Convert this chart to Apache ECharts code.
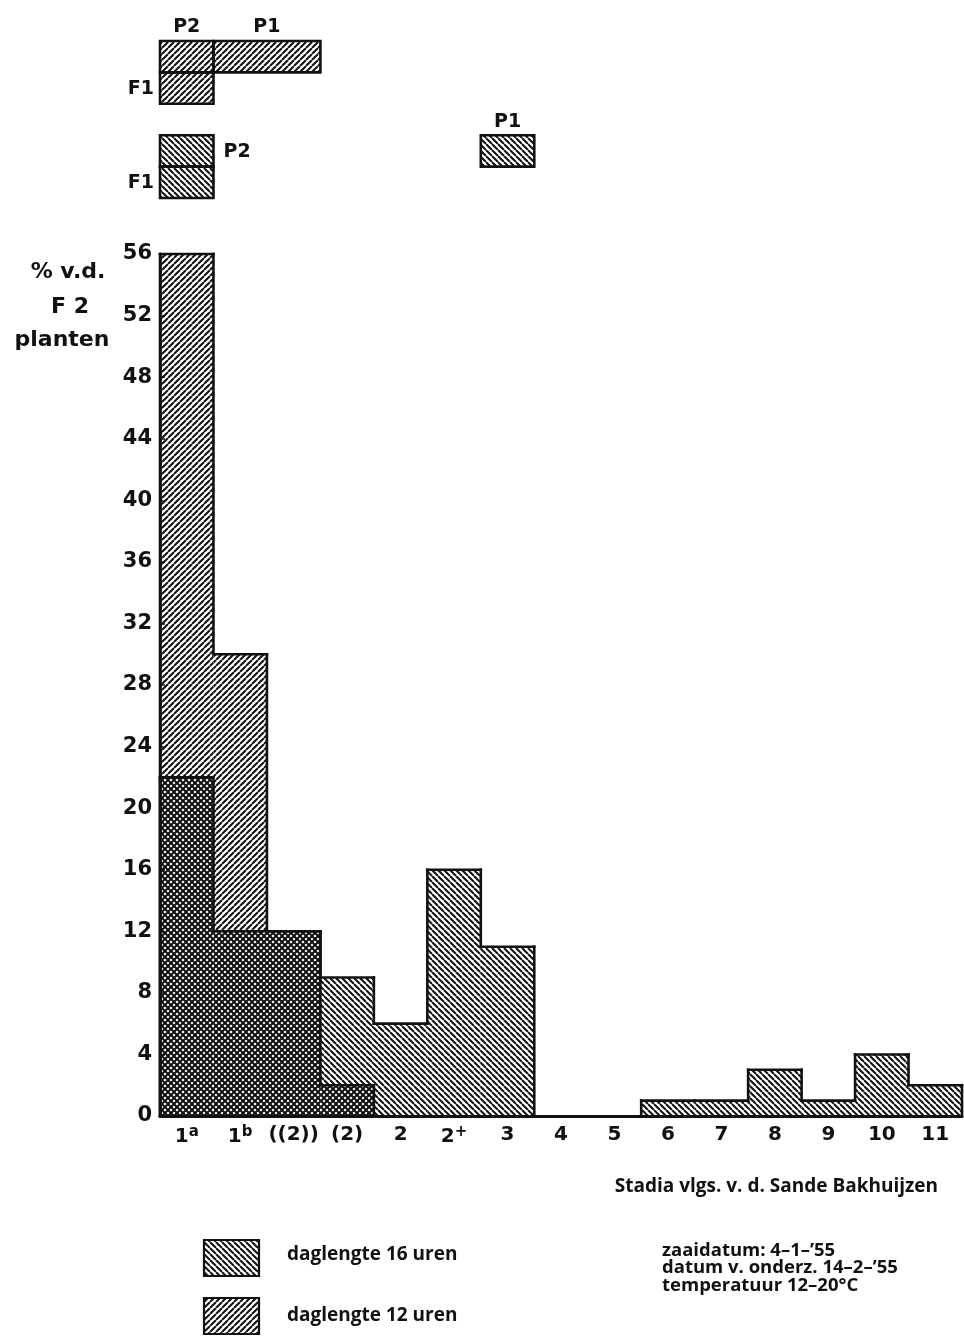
<!DOCTYPE html>
<html>
<head>
<meta charset="utf-8">
<script src="https://cdn.jsdelivr.net/npm/echarts@6/dist/echarts.min.js"></script>
<style>
html,body{margin:0;padding:0;background:#fff;}
#chart{width:964px;height:1336px;}
</style>
</head>
<body>
<div id="chart"></div>
<script>
// ---- data ----
const stages = ['1a', '1b', '((2))', '(2)', '2', '2+', '3', '4', '5', '6', '7', '8', '9', '10', '11'];
const day16 = [22, 12, 12, 9, 6, 16, 11, 0, 0, 1, 1, 3, 1, 4, 2];
const day12 = [56, 30, 12, 2, 0, 0, 0, 0, 0, 0, 0, 0, 0, 0, 0];
const yTicks = [0, 4, 8, 12, 16, 20, 24, 28, 32, 36, 40, 44, 48, 52, 56];
// parents / F1 blocks above the histogram
const insetNames = ['P2', 'P1', 'F1', 'P2', 'F1', 'P1'];
const insetFrom = [0, 1, 0, 0, 0, 6];
const insetTo = [0, 2, 0, 0, 0, 6];
const insetRow = [0, 0, 1, 3, 4, 3];
const insetDay = [12, 12, 12, 16, 16, 16];
const legendLabels = ['daglengte 16 uren', 'daglengte 12 uren'];
const infoLines = ["zaaidatum: 4\u20131\u2013\u201955", "datum v. onderz. 14\u20132\u2013\u201955", "temperatuur 12\u201320\u00b0C"];

// ---- hatch patterns ----
function hatch(dir) {
  const s = 6;
  const c = document.createElement('canvas');
  c.width = s; c.height = s;
  const g = c.getContext('2d');
  g.strokeStyle = '#111';
  g.lineWidth = 2.0;
  g.beginPath();
  for (let k = -1; k <= 1; k++) {
    const x = k * s;
    if (dir === '/') { g.moveTo(x, s); g.lineTo(x + s, 0); }
    else { g.moveTo(x, 0); g.lineTo(x + s, s); }
  }
  g.stroke();
  return c;
}
const pat12 = {image: hatch('/'), repeat: 'repeat'};
const pat16 = {image: hatch('\\'), repeat: 'repeat'};
const LW = 2.6, INK = '#111';

function histSeries(name, values, pattern) {
  const n = values.length;
  return {
    type: 'custom', name: name, xAxisIndex: 0, yAxisIndex: 0,
    data: values.map((v, i) => [i, v, i > 0 ? values[i - 1] : 0, i === n - 1 ? 1 : 0]),
    encode: {x: 0, y: 1},
    renderItem: function (params, api) {
      const i = api.value(0), v = api.value(1), prev = api.value(2), last = api.value(3);
      const top = api.coord([i, v]);
      const base = api.coord([i, 0]);
      const w = api.size([1, 0])[0];
      const x0 = top[0] - w / 2, x1 = top[0] + w / 2;
      const prevY = api.coord([i, prev])[1];
      const ls = {stroke: INK, lineWidth: LW, lineCap: 'square'};
      const ch = [];
      if (v > 0) {
        ch.push({type: 'rect', shape: {x: x0, y: top[1], width: w, height: base[1] - top[1]}, style: {fill: pattern}, silent: true});
        ch.push({type: 'line', shape: {x1: x0, y1: top[1], x2: x1, y2: top[1]}, style: ls, silent: true});
      }
      if (prev !== v) ch.push({type: 'line', shape: {x1: x0, y1: prevY, x2: x0, y2: top[1]}, style: ls, silent: true});
      if (last && v > 0) ch.push({type: 'line', shape: {x1: x1, y1: top[1], x2: x1, y2: base[1]}, style: ls, silent: true});
      return {type: 'group', children: ch};
    },
    z: 2
  };
}

const labelSide = ['top', 'top', 'left', 'right', 'left', 'top'];
const insetSeries = {
  type: 'custom', xAxisIndex: 1, yAxisIndex: 1,
  data: insetNames.map((nm, i) => [insetFrom[i], insetTo[i], insetRow[i], insetDay[i]]),
  encode: {x: 0, y: 2},
  renderItem: function (params, api) {
    const i = params.dataIndex;
    const f = api.value(0), t = api.value(1), r = api.value(2), d = api.value(3);
    const w = api.size([1, 0])[0];
    const x0 = api.coord([f, r])[0] - w / 2;
    const x1 = api.coord([t, r])[0] + w / 2;
    const y0 = api.coord([f, r])[1];
    const y1 = api.coord([f, r + 1])[1];
    const side = labelSide[i];
    let tx, ty, align, vAlign = 'middle';
    if (side === 'top') { tx = (x0 + x1) / 2; ty = y0 - 4; align = 'center'; vAlign = 'bottom'; }
    else if (side === 'left') { tx = x0 - 6; ty = (y0 + y1) / 2 + 1; align = 'right'; }
    else { tx = x1 + 10; ty = (y0 + y1) / 2 + 1; align = 'left'; }
    return {type: 'group', children: [
      {type: 'rect', shape: {x: x0, y: y0, width: x1 - x0, height: y1 - y0},
        style: {fill: d === 12 ? pat12 : pat16, stroke: INK, lineWidth: LW}, silent: true},
      {type: 'text', style: {x: tx, y: ty, text: insetNames[i], fill: INK, font: 'bold 19px "DejaVu Sans"', align: align, verticalAlign: vAlign}, silent: true}
    ]};
  }
};

const chart = echarts.init(document.getElementById('chart'), null, {renderer: 'canvas'});
const labelFont = '"DejaVu Sans"';
chart.setOption({
  animation: false,
  backgroundColor: '#fff',
  grid: [
    {left: 160, right: 2, top: 254, bottom: 220},
    {left: 160, right: 2, top: 41, height: 157}
  ],
  xAxis: [
    {type: 'category', gridIndex: 0, data: stages, boundaryGap: true,
      axisLine: {show: true, lineStyle: {color: INK, width: 3}},
      axisTick: {show: false},
      axisLabel: {interval: 0, margin: 9, color: INK, fontFamily: labelFont, fontWeight: 'bold', fontSize: 20,
        formatter: function (v) {
          if (v === '1a') return '1{s|a}';
          if (v === '1b') return '1{s|b}';
          if (v === '2+') return '2{s|+}';
          return v;
        },
        rich: {s: {fontFamily: labelFont, fontWeight: 'bold', fontSize: 15, color: INK, verticalAlign: 'top', padding: [0, 0, 8, 0]}}
      },
      splitLine: {show: false}},
    {type: 'category', gridIndex: 1, data: stages, boundaryGap: true, show: false}
  ],
  yAxis: [
    {type: 'value', gridIndex: 0, min: 0, max: 56, interval: 4,
      axisLine: {show: true, lineStyle: {color: INK, width: LW}},
      axisTick: {show: true, inside: true, length: 5, lineStyle: {color: INK, width: 1.5}},
      axisLabel: {margin: 8, color: INK, fontFamily: labelFont, fontWeight: 'bold', fontSize: 21,
        formatter: function (v) { return yTicks.indexOf(v) >= 0 ? String(v) : ''; }},
      splitLine: {show: false}},
    {type: 'value', gridIndex: 1, min: 0, max: 5, inverse: true, show: false}
  ],
  series: [
    histSeries('daglengte 12 uren', day12, pat12),
    histSeries('daglengte 16 uren', day16, pat16),
    insetSeries
  ],
  graphic: [
    {type: 'text', x: 68, y: 272, style: {text: '% v.d.', fill: INK, font: 'bold 22px "DejaVu Sans"', align: 'center', verticalAlign: 'middle'}},
    {type: 'text', x: 70, y: 307, style: {text: 'F 2', fill: INK, font: 'bold 22px "DejaVu Sans"', align: 'center', verticalAlign: 'middle'}},
    {type: 'text', x: 62, y: 340, style: {text: 'planten', fill: INK, font: 'bold 22px "DejaVu Sans"', align: 'center', verticalAlign: 'middle'}},
    {type: 'text', x: 938, y: 1187, style: {text: 'Stadia vlgs. v. d. Sande Bakhuijzen', fill: INK, font: 'bold 19px "Open Sans"', align: 'right', verticalAlign: 'middle'}},
    {type: 'rect', shape: {x: 204, y: 1240, width: 55, height: 36}, style: {fill: pat16, stroke: INK, lineWidth: 2.2}},
    {type: 'rect', shape: {x: 204, y: 1298, width: 55, height: 36}, style: {fill: pat12, stroke: INK, lineWidth: 2.2}},
    {type: 'text', x: 287, y: 1255, style: {text: legendLabels[0], fill: INK, font: 'bold 19px "Open Sans"', align: 'left', verticalAlign: 'middle'}},
    {type: 'text', x: 287, y: 1316, style: {text: legendLabels[1], fill: INK, font: 'bold 19px "Open Sans"', align: 'left', verticalAlign: 'middle'}},
    {type: 'text', x: 662, y: 1251, style: {text: infoLines[0], fill: INK, font: 'bold 18.5px "Open Sans"', align: 'left', verticalAlign: 'middle'}},
    {type: 'text', x: 662, y: 1268, style: {text: infoLines[1], fill: INK, font: 'bold 18.5px "Open Sans"', align: 'left', verticalAlign: 'middle'}},
    {type: 'text', x: 662, y: 1286, style: {text: infoLines[2], fill: INK, font: 'bold 18.5px "Open Sans"', align: 'left', verticalAlign: 'middle'}}
  ]
});
</script>
</body>
</html>
